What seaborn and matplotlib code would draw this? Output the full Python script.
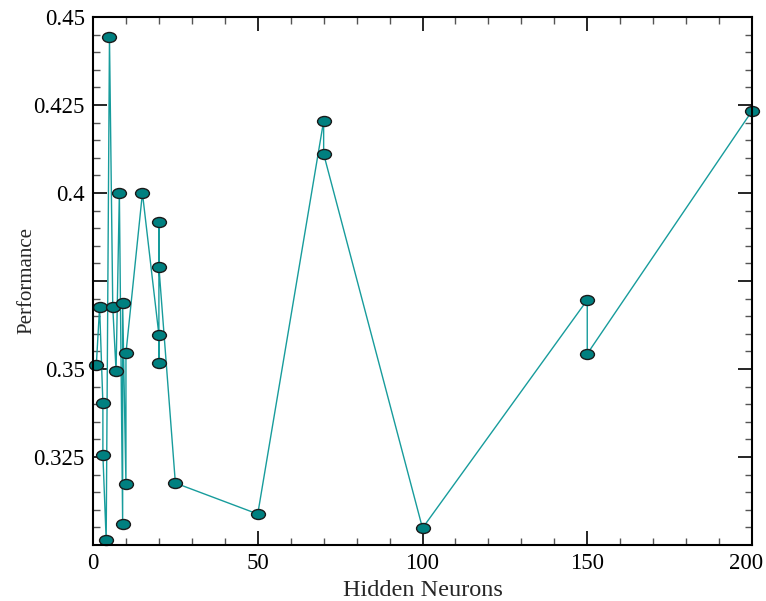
import numpy as np
import pandas as pd
import matplotlib
matplotlib.use("Agg")
import matplotlib.pyplot as plt
from matplotlib.path import Path
from matplotlib.transforms import Affine2D, ScaledTranslation
from matplotlib.ticker import FixedLocator, MultipleLocator
import seaborn as sns

# Data (in drawing order)
hidden_neurons = [1, 2, 3, 3, 4, 5, 6, 7, 8, 9, 9, 10, 10, 15,
                  20, 20, 20, 20, 25, 50, 70, 70, 100, 150, 150, 200]
performance = [0.351, 0.3676, 0.3403, 0.3256, 0.3014, 0.4443, 0.3676, 0.3494,
               0.400, 0.3060, 0.3688, 0.3173, 0.3545, 0.400,
               0.3597, 0.3517, 0.3918, 0.3790, 0.3176, 0.3088,
               0.4205, 0.4111, 0.3048, 0.3696, 0.3543, 0.4233]
x_ticks = [0, 50, 100, 150, 200]
y_ticks = [0.30, 0.325, 0.35, 0.375, 0.40, 0.425, 0.45]
y_tick_labels = ["", "0.325", "0.35", "", "0.4", "0.425", "0.45"]

df = pd.DataFrame({"Hidden Neurons": hidden_neurons, "Performance": performance})

sns.set_theme(style="ticks")
plt.rcParams["font.family"] = ["Liberation Serif", "DejaVu Serif"]

fig = plt.figure(figsize=(7.66, 6.01), dpi=100)
ax = fig.add_axes([93 / 766, 1 - 545 / 601, (752 - 93) / 766, (545 - 17) / 601])

ellipse = Path.unit_circle().transformed(Affine2D().scale(1.0, 0.72))

sns.lineplot(data=df, x="Hidden Neurons", y="Performance", sort=False,
             estimator=None, ax=ax, color="#179c9c", linewidth=1.0,
             marker=ellipse, markersize=10, markerfacecolor="#008080",
             markeredgecolor="#1a1a1a", markeredgewidth=1.0, clip_on=False)

ax.set_xlim(0, 200)
ax.set_ylim(0.30, 0.45)
ax.xaxis.set_major_locator(FixedLocator(x_ticks))
ax.xaxis.set_minor_locator(MultipleLocator(10))
ax.yaxis.set_major_locator(FixedLocator(y_ticks))
ax.set_yticklabels(y_tick_labels)
ax.yaxis.set_minor_locator(MultipleLocator(0.005))

ax.tick_params(which="both", direction="in", top=True, right=True,
               labelsize=16.5, colors="black", pad=6)
ax.tick_params(which="major", length=10, width=1.2)
ax.tick_params(which="minor", length=5, width=1.0, color="#555555")

# keep the last x tick label inside the figure, as in the reference
last = ax.get_xticklabels()[-1]
last.set_transform(last.get_transform() + ScaledTranslation(-6 / 100, 0, fig.dpi_scale_trans))

for s in ax.spines.values():
    s.set_linewidth(1.5)
    s.set_color("black")

ax.set_xlabel("Hidden Neurons", fontsize=17.5, labelpad=4)
ax.set_ylabel("Performance", fontsize=15, labelpad=-2)

fig.savefig("out.png", dpi=100)
